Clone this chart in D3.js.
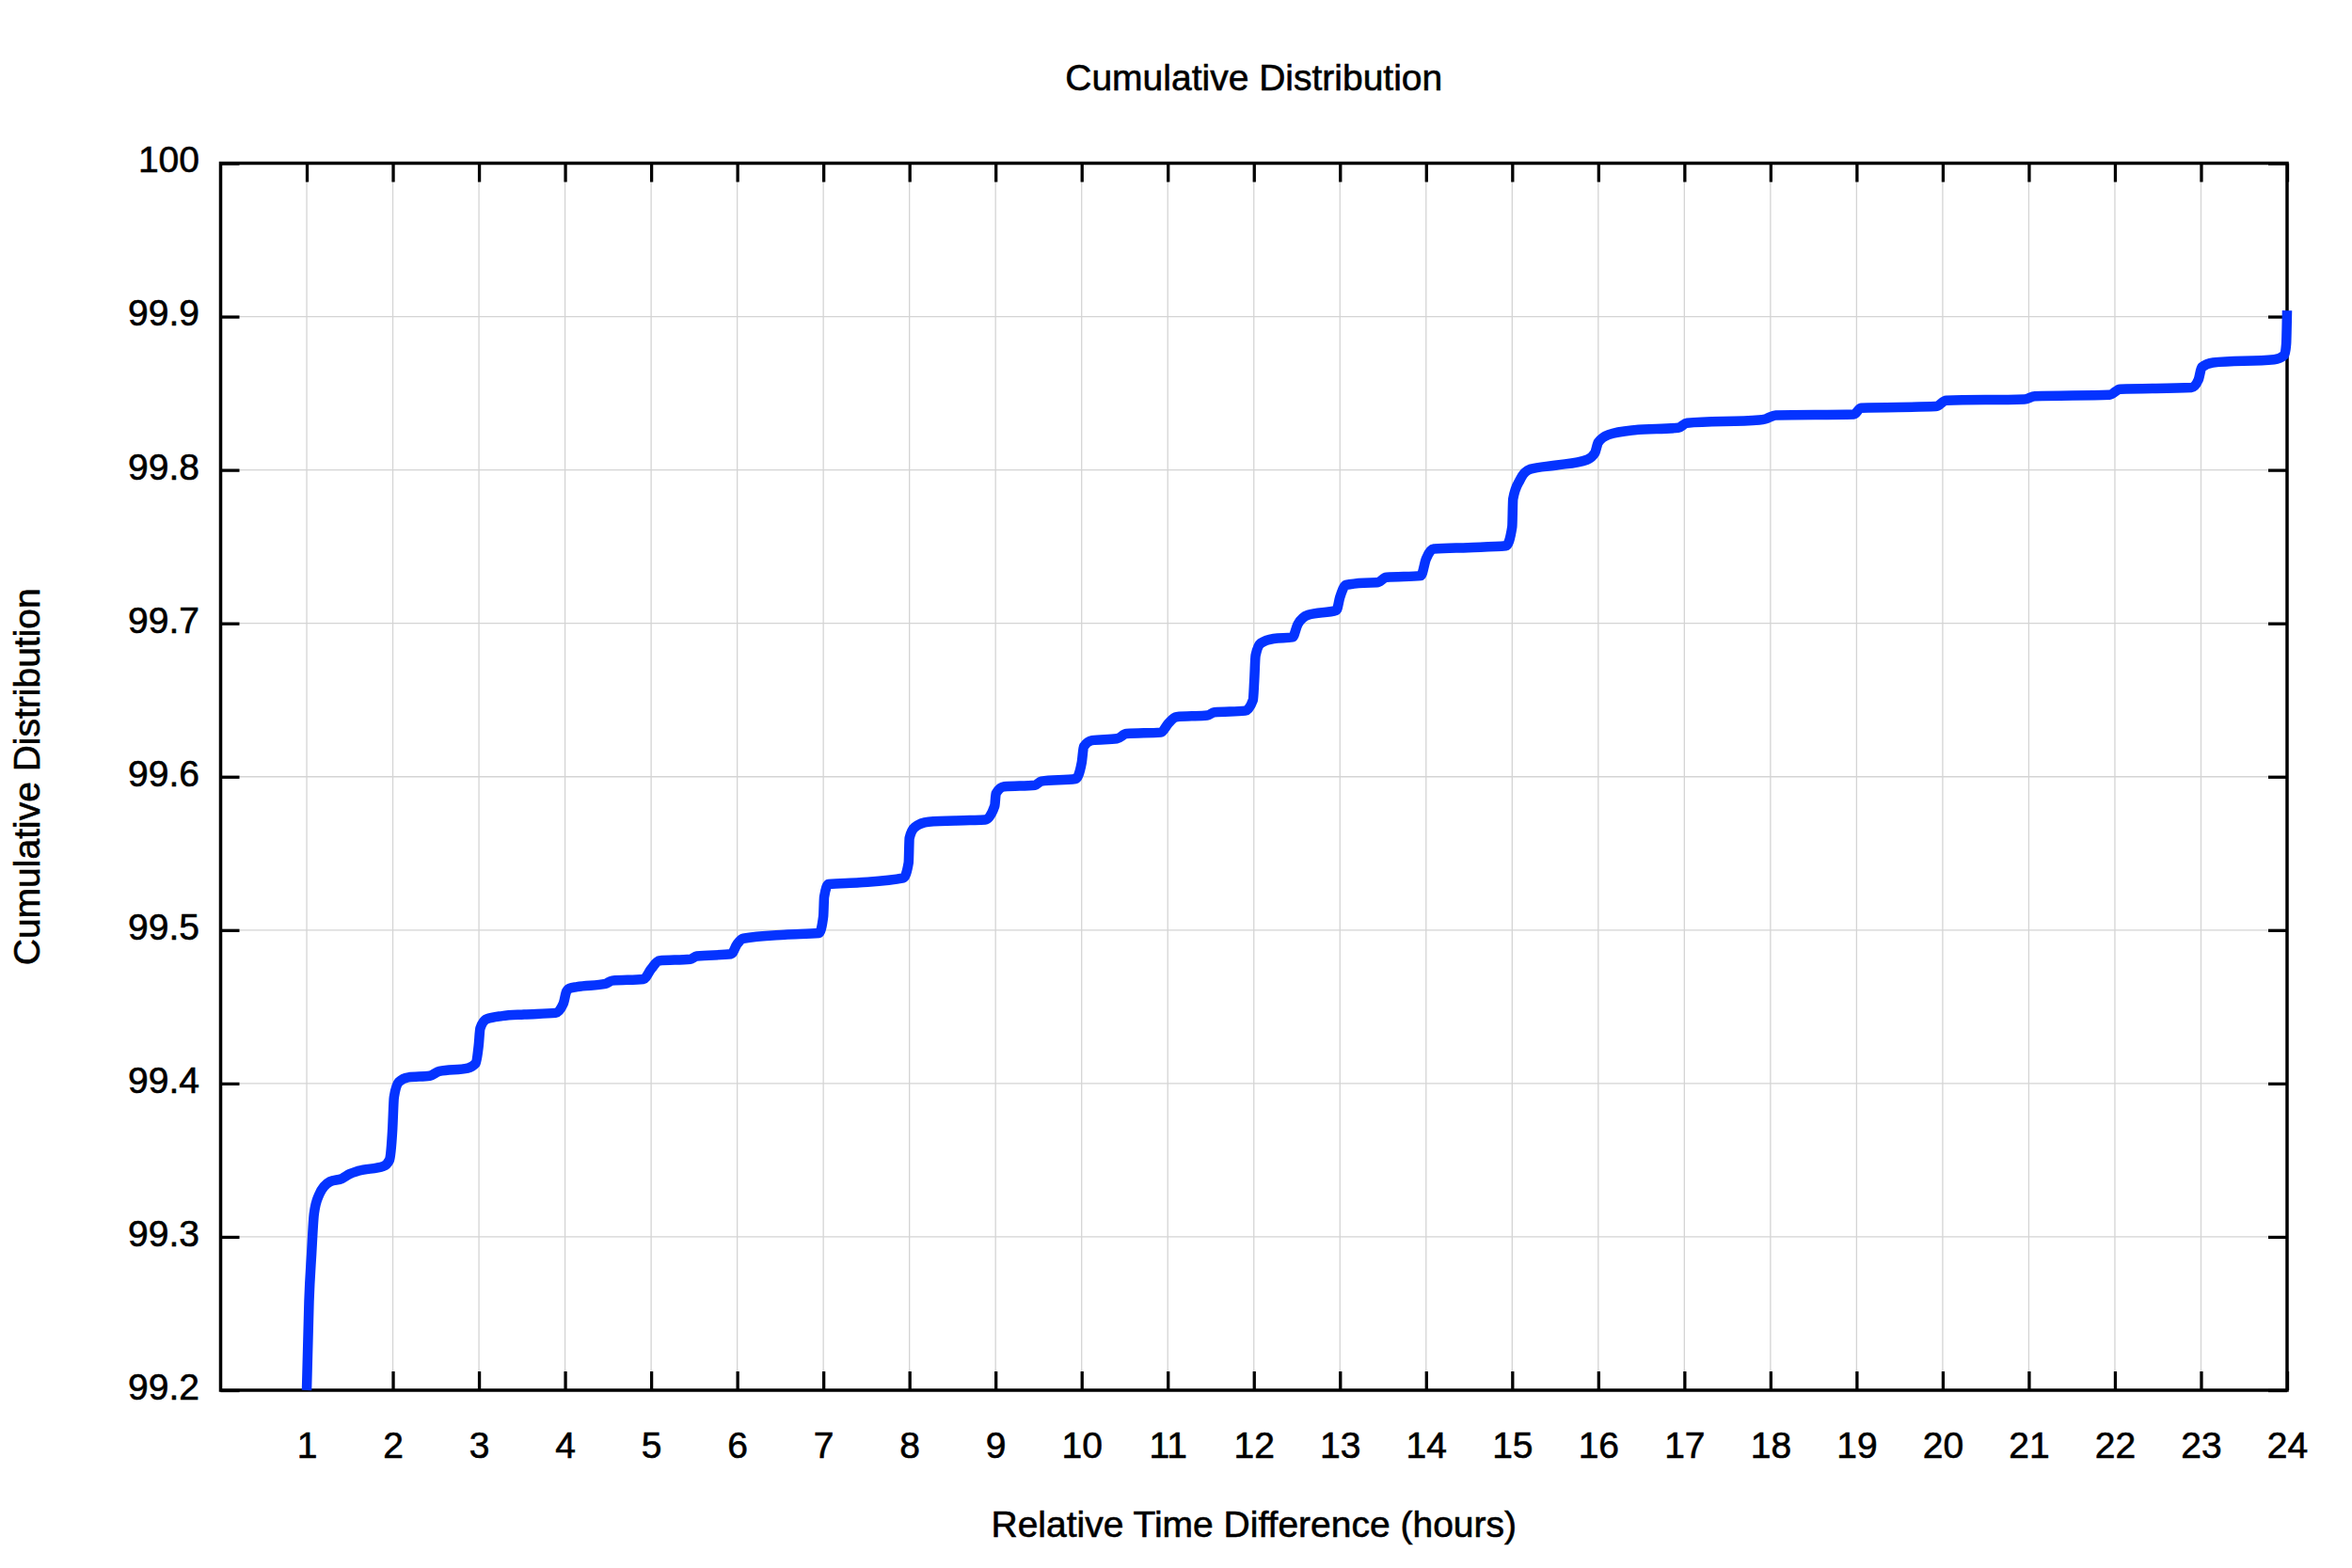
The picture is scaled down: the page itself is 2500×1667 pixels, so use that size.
<!DOCTYPE html>
<html>
<head>
<meta charset="utf-8">
<script src="https://cdn.jsdelivr.net/npm/d3@7"></script>
<style>
  html, body { margin: 0; padding: 0; background: #ffffff; }
  svg { display: block; }
  text { font-family: "Liberation Sans", Arial, Helvetica, sans-serif; fill: #000; }
</style>
</head>
<body>
<svg id="chart" width="2500" height="1667"></svg>
<script>
// ---- data ----
const hours = [
  1.000, 1.027, 1.056, 1.085, 1.14, 1.27, 1.41, 1.50, 1.60, 1.89, 1.96, 1.996, 2.014, 2.07, 2.18, 2.43, 2.54, 2.87, 2.96,
  2.997, 3.015, 3.09, 3.27, 3.525, 3.89, 3.98, 4.017, 4.05, 4.14, 4.47, 4.545, 4.91, 5.0, 5.09, 5.455, 5.53, 5.93,
  6.0, 6.07, 6.55, 6.95, 7.0, 7.01, 7.06, 7.42, 7.93, 7.99, 8.0, 8.06, 8.22, 8.70, 8.88, 8.99, 9.005, 9.1, 9.46, 9.53,
  9.93, 10.0, 10.025, 10.12, 10.41, 10.52, 10.92, 11.01, 11.1, 11.46, 11.54, 11.9, 11.99, 12.005, 12.02, 12.08, 12.23,
  12.45, 12.51, 12.63, 12.96, 13.0, 13.07, 13.28, 13.43, 13.54, 13.94, 14.0, 14.09, 14.49, 14.93, 15.0, 15.01, 15.09,
  15.21, 15.50, 15.87, 15.96, 16.0, 16.12, 16.42, 16.93, 17.03, 17.87, 17.94, 18.06, 18.97, 19.05, 19.92, 20.04,
  20.95, 21.07, 21.94, 22.06, 22.89, 22.97, 23.01, 23.14, 23.85, 23.97, 23.99, 24.0
];
const cdf = [
  99.200, 99.258, 99.289, 99.315, 99.327, 99.336, 99.338, 99.341, 99.343, 99.346, 99.350, 99.370, 99.391, 99.401, 99.404, 99.405, 99.408, 99.410, 99.413,
  99.425, 99.436, 99.442, 99.444, 99.445, 99.446, 99.452, 99.460, 99.462, 99.463, 99.465, 99.467, 99.468, 99.4746, 99.480, 99.481, 99.483, 99.4844,
  99.491, 99.4945, 99.497, 99.498, 99.509, 99.5216, 99.530, 99.531, 99.534, 99.544, 99.560, 99.567, 99.5706, 99.5716, 99.572, 99.581, 99.589, 99.5935, 99.5945, 99.597,
  99.5986, 99.609, 99.6197, 99.6237, 99.6248, 99.628, 99.6289, 99.635, 99.639, 99.640, 99.642, 99.643, 99.650, 99.6626, 99.679, 99.687, 99.690,
  99.691, 99.6994, 99.7055, 99.7086, 99.7170, 99.725, 99.7264, 99.7266, 99.730, 99.731, 99.742, 99.7485, 99.7494, 99.7505, 99.763, 99.781, 99.7934,
  99.8005, 99.803, 99.8067, 99.811, 99.818, 99.823, 99.826, 99.8275, 99.8306, 99.8326, 99.8332, 99.8357, 99.8363, 99.8404, 99.8414, 99.8453,
  99.8461, 99.8481, 99.849, 99.8527, 99.8537, 99.8588, 99.867, 99.870, 99.872, 99.875, 99.882, 99.904
];
const xTicks = d3.range(1, 25);                  // 1 .. 24
const yTicks = [99.2, 99.3, 99.4, 99.5, 99.6, 99.7, 99.8, 99.9, 100];
const yTickLabels = ["99.2", "99.3", "99.4", "99.5", "99.6", "99.7", "99.8", "99.9", "100"];
const titleText = "Cumulative Distribution";
const xLabelText = "Relative Time Difference (hours)";
const yLabelText = "Cumulative Distribution";

// ---- layout ----
const plotL = 234.5, plotR = 2431, plotT = 173.5, plotB = 1478;
const fontSize = 39;

const svg = d3.select("#chart");
const x = d3.scaleLinear().domain([0, 24]).range([plotL, plotR]);
const y = d3.scaleLinear().domain([99.2, 100]).range([plotB, plotT]);

// grid
const grid = svg.append("g").attr("stroke", "#d4d4d4").attr("stroke-width", 1.3);
grid.selectAll("line.vx").data(xTicks.filter(d => d < 24)).enter().append("line")
  .attr("x1", d => x(d)).attr("x2", d => x(d)).attr("y1", plotT).attr("y2", plotB);
grid.selectAll("line.hy").data(yTicks.filter(d => d > 99.2 && d < 100)).enter().append("line")
  .attr("x1", plotL).attr("x2", plotR).attr("y1", d => y(d)).attr("y2", d => y(d));

// axes (inward ticks on all four sides)
const tickLen = 20;
function styleText(sel) {
  sel.attr("font-size", fontSize).attr("fill", "#000")
    .attr("font-family", "\"Liberation Sans\", Arial, sans-serif")
    .attr("stroke", "#000").attr("stroke-width", 0.6);
}
function styleAxis(g) {
  g.select(".domain").remove();
  g.selectAll(".tick line").attr("stroke", "#000").attr("stroke-width", 3.3);
  g.selectAll(".tick text").call(styleText);
}
svg.append("g").attr("transform", `translate(0,${plotB})`)
  .call(d3.axisBottom(x).tickValues(xTicks).tickSize(-tickLen).tickPadding(44).tickFormat(d3.format("d")))
  .call(styleAxis);
svg.append("g").attr("transform", `translate(0,${plotT})`)
  .call(d3.axisTop(x).tickValues(xTicks).tickSize(-tickLen).tickFormat(""))
  .call(styleAxis);
svg.append("g").attr("transform", `translate(${plotL},0)`)
  .call(d3.axisLeft(y).tickValues(yTicks).tickSize(-tickLen).tickPadding(22.5)
    .tickFormat((d, i) => yTickLabels[i]))
  .call(styleAxis)
  .call(g => g.selectAll(".tick text").attr("dy", "0.24em"));
svg.append("g").attr("transform", `translate(${plotR},0)`)
  .call(d3.axisRight(y).tickValues(yTicks).tickSize(-tickLen).tickFormat(""))
  .call(styleAxis);

// frame
svg.append("rect").attr("x", plotL).attr("y", plotT)
  .attr("width", plotR - plotL).attr("height", plotB - plotT)
  .attr("fill", "none").attr("stroke", "#000").attr("stroke-width", 3.5);

// curve
const pts = hours.map((h, i) => [h, cdf[i]]);
const line = d3.line().x(d => x(d[0])).y(d => y(d[1])).curve(d3.curveMonotoneX);
svg.append("path").datum(pts)
  .attr("d", line)
  .attr("fill", "none")
  .attr("stroke", "#0433ff")
  .attr("stroke-width", 10.5)
  .attr("stroke-linejoin", "round")
  .attr("stroke-linecap", "butt");

// titles
svg.append("text").attr("x", (plotL + plotR) / 2).attr("y", 96)
  .attr("text-anchor", "middle").call(styleText).text(titleText);
svg.append("text").attr("x", (plotL + plotR) / 2).attr("y", 1634)
  .attr("text-anchor", "middle").call(styleText).text(xLabelText);
svg.append("text").attr("transform", `translate(42,${(plotT + plotB) / 2}) rotate(-90)`)
  .attr("text-anchor", "middle").call(styleText).text(yLabelText);
</script>
</body>
</html>
